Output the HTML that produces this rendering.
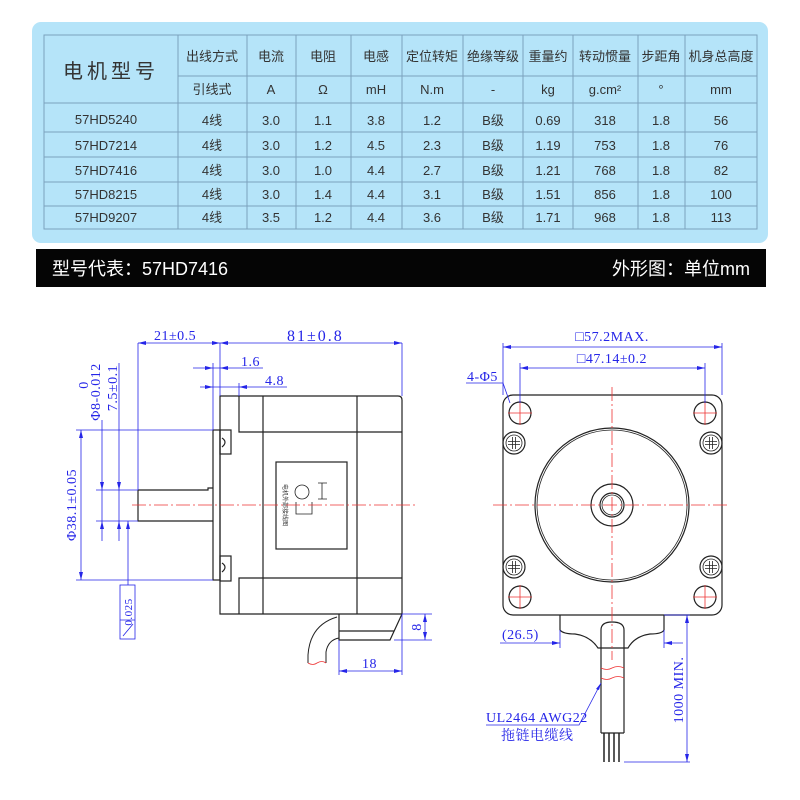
<!DOCTYPE html>
<html><head><meta charset="utf-8"><style>
html,body{margin:0;padding:0;background:#fff;width:800px;height:800px;overflow:hidden}
svg{display:block}
.t{font-family:"Liberation Sans","Noto Sans CJK SC",sans-serif;fill:#333;font-size:13px;text-anchor:middle}
.b{font-family:"Liberation Serif","Noto Serif CJK SC",serif;fill:#2525e8;font-size:14px;letter-spacing:0.5px}
</style></head><body>
<svg width="800" height="800" viewBox="0 0 800 800" xmlns="http://www.w3.org/2000/svg">
<defs>
<g id="sc" stroke="#222" stroke-width="1.2" fill="none"><circle r="11"/><circle r="8" stroke-width="0.8"/><path d="M-6 -1.5 H6 M-6 1.5 H6 M-1.5 -6 V6 M1.5 -6 V6" stroke-width="0.8"/></g>
</defs>
<!-- panel -->
<rect x="32" y="22" width="736" height="221" rx="9" fill="#b5e4f9"/>
<g stroke="#7ba2bd" stroke-width="1" fill="none">
<rect x="44" y="35" width="713" height="194"/>
<line x1="178" y1="76" x2="757" y2="76"/>
<line x1="44" y1="103" x2="757" y2="103"/>
<line x1="44" y1="132" x2="757" y2="132"/>
<line x1="44" y1="157" x2="757" y2="157"/>
<line x1="44" y1="182" x2="757" y2="182"/>
<line x1="44" y1="206" x2="757" y2="206"/>
<line x1="178" y1="35" x2="178" y2="229"/><line x1="247" y1="35" x2="247" y2="229"/>
<line x1="296" y1="35" x2="296" y2="229"/><line x1="351" y1="35" x2="351" y2="229"/>
<line x1="402" y1="35" x2="402" y2="229"/><line x1="463" y1="35" x2="463" y2="229"/>
<line x1="523" y1="35" x2="523" y2="229"/><line x1="573" y1="35" x2="573" y2="229"/>
<line x1="638" y1="35" x2="638" y2="229"/><line x1="685" y1="35" x2="685" y2="229"/>
</g>
<g class="t">
<text x="111" y="78" font-size="20" letter-spacing="4">电机型号</text>
<text x="212" y="61">出线方式</text><text x="271" y="61">电流</text><text x="323" y="61">电阻</text>
<text x="376" y="61">电感</text><text x="432" y="61">定位转矩</text><text x="493" y="61">绝缘等级</text>
<text x="548" y="61">重量约</text><text x="605" y="61">转动惯量</text><text x="661" y="61">步距角</text>
<text x="721" y="61">机身总高度</text>
<text x="212" y="94">引线式</text><text x="271" y="94">A</text><text x="323" y="94">Ω</text>
<text x="376" y="94">mH</text><text x="432" y="94">N.m</text><text x="493" y="94">-</text>
<text x="548" y="94">kg</text><text x="605" y="94">g.cm²</text><text x="661" y="94">°</text><text x="721" y="94">mm</text>
</g>
<g class="t">
<text x="106" y="124">57HD5240</text><text x="212" y="125">4线</text><text x="271" y="125">3.0</text><text x="323" y="125">1.1</text><text x="376" y="125">3.8</text><text x="432" y="125">1.2</text><text x="493" y="125">B级</text><text x="548" y="125">0.69</text><text x="605" y="125">318</text><text x="661" y="125">1.8</text><text x="721" y="125">56</text>
<text x="106" y="150">57HD7214</text><text x="212" y="150">4线</text><text x="271" y="150">3.0</text><text x="323" y="150">1.2</text><text x="376" y="150">4.5</text><text x="432" y="150">2.3</text><text x="493" y="150">B级</text><text x="548" y="150">1.19</text><text x="605" y="150">753</text><text x="661" y="150">1.8</text><text x="721" y="150">76</text>
<text x="106" y="175">57HD7416</text><text x="212" y="175">4线</text><text x="271" y="175">3.0</text><text x="323" y="175">1.0</text><text x="376" y="175">4.4</text><text x="432" y="175">2.7</text><text x="493" y="175">B级</text><text x="548" y="175">1.21</text><text x="605" y="175">768</text><text x="661" y="175">1.8</text><text x="721" y="175">82</text>
<text x="106" y="199">57HD8215</text><text x="212" y="199">4线</text><text x="271" y="199">3.0</text><text x="323" y="199">1.4</text><text x="376" y="199">4.4</text><text x="432" y="199">3.1</text><text x="493" y="199">B级</text><text x="548" y="199">1.51</text><text x="605" y="199">856</text><text x="661" y="199">1.8</text><text x="721" y="199">100</text>
<text x="106" y="222">57HD9207</text><text x="212" y="222">4线</text><text x="271" y="222">3.5</text><text x="323" y="222">1.2</text><text x="376" y="222">4.4</text><text x="432" y="222">3.6</text><text x="493" y="222">B级</text><text x="548" y="222">1.71</text><text x="605" y="222">968</text><text x="661" y="222">1.8</text><text x="721" y="222">113</text>
</g>
<!-- black bar -->
<rect x="36" y="249" width="730" height="38" fill="#050505"/>
<text x="52" y="275" font-family="Liberation Sans,'Noto Sans CJK SC',sans-serif" font-size="18" fill="#fff">型号代表：57HD7416</text>
<text x="750" y="275" font-family="Liberation Sans,'Noto Sans CJK SC',sans-serif" font-size="18" fill="#fff" text-anchor="end">外形图：单位mm</text>

<!-- LEFT DRAWING -->
<g stroke="#222" stroke-width="1.2" fill="none">
<path d="M220 396 H398 Q402 396 402 400 V614 H220 Z"/>
<path d="M239 396 V432 H402 M263 396 V614 M357 396 V614 M239 614 V578 H402"/>
<rect x="213" y="430" width="7" height="150"/>
<rect x="220" y="430" width="11" height="24"/><rect x="220" y="556" width="11" height="25"/>
<path d="M222 438 q6 4 0 9 M222 563 q6 4 0 9"/>
<path d="M138 490 H208 V488 H213 M138 490 V521 H213"/>
<rect x="276" y="462" width="71" height="87"/>
<path d="M339 614 V640 H390 L402 614 M339 631 H394"/>
<path d="M308 663 V655 Q310 625 337 617 M326 663 V652 Q328 640 339 638" stroke-width="1"/>
</g>
<g stroke="#222" stroke-width="0.8" fill="none">
<circle cx="302" cy="492" r="7"/>
<path d="M318 483 h4 v16 h-4 M296 502 v12 h16 v-12 M322 483 h5 M322 499 h5"/>
</g>
<text x="283" y="505" font-size="6" fill="#333" transform="rotate(90 283 505)" text-anchor="middle" font-family="'Noto Sans CJK SC',sans-serif">电机外部接线图</text>
<path d="M308 663 q5 3 9 0 q5 -3 9 0" stroke="#e33" fill="none" stroke-width="0.8"/>
<line x1="132" y1="505" x2="418" y2="505" stroke="#e33" stroke-width="0.8" stroke-dasharray="14 3 2 3"/>

<g stroke="#2525e8" stroke-width="0.8" fill="none">
<path d="M138 343 H402 M138 343 V490 M220 343 V396 M402 343 V396"/>
<path d="M193 368 H263 M200 387 H287 M213 363 V430 M239 383 V396"/>
<path d="M81 430 V580 M76 430 H213 M76 580 H213"/>
<path d="M102 420 V541 M119 363 V541 M96 490 H138 M96 521 H138"/>
<path d="M128 521 V585"/>
<rect x="120" y="585" width="15" height="54"/><path d="M120 620 H135 M123 636 L133 624"/>
<path d="M425 614 V640 M402 614 H432 M394 640 H432"/>
<path d="M339 640 V675 M402 614 V675 M339 671 H402"/>
</g>
<g fill="#2525e8">
<path d="M138 343 l8 -2 v4z M220 343 l-8 -2 v4z M220 343 l8 -2 v4z M402 343 l-8 -2 v4z"/>
<path d="M213 368 l-8 -2 v4z M220 368 l8 -2 v4z M213 387 l-8 -2 v4z M239 387 l8 -2 v4z"/>
<path d="M81 430 l-2 8 h4z M81 580 l-2 -8 h4z"/>
<path d="M102 490 l-2 -8 h4z M102 521 l-2 8 h4z M119 490 l-2 -8 h4z M119 521 l-2 8 h4z M128 521 l-2 8 h4z"/>
<path d="M425 614 l-2 8 h4z M425 640 l-2 -8 h4z M339 671 l8 -2 v4z M402 671 l-8 -2 v4z"/>
</g>
<g class="b">
<text x="154" y="340">21±0.5</text>
<text x="287" y="341" font-size="16" letter-spacing="2">81±0.8</text>
<text x="241" y="366">1.6</text><text x="265" y="385">4.8</text>
<text x="362" y="668">18</text>
<text transform="translate(76 505) rotate(-90)" text-anchor="middle">Φ38.1±0.05</text>
<text transform="translate(117 388) rotate(-90)" text-anchor="middle">7.5±0.1</text>
<text transform="translate(100 392) rotate(-90)" text-anchor="middle">Φ8-0.012</text>
<text transform="translate(88 385) rotate(-90)" text-anchor="middle">0</text>
<text transform="translate(132 612) rotate(-90)" text-anchor="middle" font-size="11">0.025</text>
<text transform="translate(421 627) rotate(-90)" text-anchor="middle">8</text>
</g>

<!-- RIGHT DRAWING -->
<g stroke="#222" stroke-width="1.2" fill="none">
<rect x="503" y="395" width="219" height="220" rx="10"/>
<circle cx="520" cy="413" r="11"/><circle cx="705" cy="413" r="11"/>
<circle cx="520" cy="597" r="11"/><circle cx="705" cy="597" r="11"/>
<circle cx="612" cy="505" r="77"/><circle cx="612" cy="505" r="75" stroke-width="0.8"/>
<circle cx="612" cy="505" r="21"/><circle cx="612" cy="505" r="12"/><circle cx="612" cy="505" r="10" stroke-width="0.8"/>
<path d="M560 615 V630 Q563 634 575 634 Q590 636 598 648 H628 Q635 636 650 634 Q662 634 664 630 V615"/>
<path d="M601 733 V630 Q601 622 612 622 Q624 622 624 630 V733"/>
<path d="M601 733 H624"/>
</g>
<use href="#sc" x="514" y="443"/><use href="#sc" x="711" y="443"/><use href="#sc" x="514" y="567"/><use href="#sc" x="711" y="567"/>
<g stroke="#222" stroke-width="1.5"><path d="M604 733 V762 M609 733 V762 M614 733 V762 M619 733 V762"/></g>
<path d="M601 668 q6 3 11 0 q6 -3 12 0 M601 678 q6 3 11 0 q6 -3 12 0" stroke="#e33" fill="none" stroke-width="0.8"/>
<g stroke="#e33" stroke-width="0.8" stroke-dasharray="14 3 2 3" fill="none">
<path d="M493 505 H728 M612 387 V660"/>
<path d="M508 413 H532 M520 401 V425 M693 413 H717 M705 401 V425 M508 597 H532 M520 585 V609 M693 597 H717 M705 585 V609" stroke-dasharray="none"/>
</g>
<g stroke="#2525e8" stroke-width="0.8" fill="none">
<path d="M503 347 H722 M503 343 V395 M722 343 V395"/>
<path d="M520 368 H705 M520 363 V403 M705 363 V403"/>
<path d="M466 383 H503 L510 403"/>
<path d="M500 643 H560 M664 643 H683 M560 630 V648 M664 630 V648"/>
<path d="M687 615 V762 M624 762 H690 M664 615 H690"/>
<path d="M486 725 H579 L601 683"/>
</g>
<g fill="#2525e8">
<path d="M503 347 l8 -2 v4z M722 347 l-8 -2 v4z M520 368 l8 -2 v4z M705 368 l-8 -2 v4z"/>
<path d="M560 643 l-8 -2 v4z M664 643 l8 -2 v4z M687 615 l-2 8 h4z M687 762 l-2 -8 h4z M601 683 l-5 6 l3 1z"/>
</g>
<g class="b">
<text x="612" y="341" text-anchor="middle">□57.2MAX.</text>
<text x="612" y="363" text-anchor="middle">□47.14±0.2</text>
<text x="467" y="381">4-Φ5</text>
<text x="502" y="639">(26.5)</text>
<text x="486" y="722">UL2464 AWG22</text>
<text x="501" y="740" font-family="'Noto Serif CJK SC',serif">拖链电缆线</text>
<text transform="translate(683 690) rotate(-90)" text-anchor="middle">1000 MIN.</text>
</g>
</svg>
</body></html>
